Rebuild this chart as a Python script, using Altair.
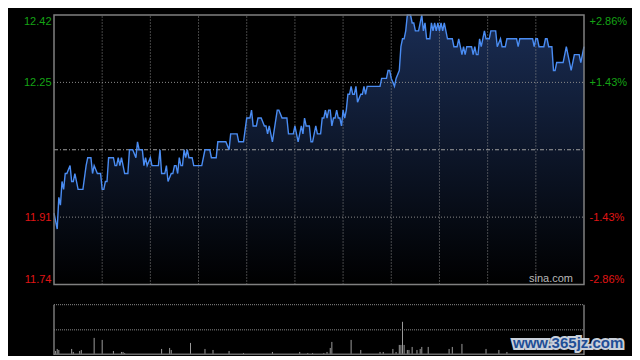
import altair as alt
import pandas as pd

# ---- price series (minute from open, price) ----
minutes = [0, 2, 3, 4, 5, 6, 7, 8, 10, 11, 12, 13, 14, 15, 18, 20, 21, 23, 24, 25, 27, 29, 30, 31, 32, 33, 34, 37, 38, 39,
           40, 41, 42, 44, 46, 47, 49, 51, 52, 53, 55, 56, 57, 58, 60, 61, 65, 66, 67, 69, 70, 71, 73, 74, 75, 76, 77, 78, 79, 80,
           81, 82, 83, 84, 86, 87, 92, 94, 97, 98, 101, 102, 107, 109, 110, 114, 115, 118, 120, 122, 123, 124, 126, 127, 129,
           131, 132, 133, 134, 136, 139, 140, 142, 145, 146, 149, 150, 152, 154, 155, 156, 157, 159, 160, 161, 163, 164, 166,
           167, 168, 169, 170, 171, 172, 173, 174, 175, 176, 177, 178, 179, 180, 181, 182, 183, 184, 185, 186, 187, 188, 189,
           191, 192, 193, 194, 195, 203, 204, 207, 208, 209, 210, 212, 213, 215, 216, 217, 218, 219, 220, 222, 223, 224, 225,
           227, 228, 229, 230, 231, 232, 234, 235, 236, 237, 238, 239, 240, 241, 242, 243, 244, 245, 248, 249, 251, 252, 253,
           254, 255, 256, 257, 260, 261, 262, 263, 264, 265, 266, 267, 268, 269, 271, 272, 275, 276, 278, 279, 281, 282, 288,
           289, 290, 298, 299, 300, 301, 302, 305, 306, 307, 308, 310, 311, 312, 313, 317, 319, 320, 322, 323, 324, 327, 328,
           329, 330]
prices = [11.92, 11.88, 11.96, 11.94, 12.00, 11.98, 12.02, 12.02, 12.04, 12.00, 12.00, 12.02, 12.00, 11.98, 11.98, 12.04,
          12.06, 12.06, 12.02, 12.04, 12.02, 12.02, 11.98, 11.98, 12.00, 12.00, 12.06, 12.06, 12.04, 12.04,
          12.06, 12.04, 12.06, 12.02, 12.02, 12.08, 12.08, 12.06, 12.10, 12.08, 12.08, 12.04, 12.06, 12.04, 12.06, 12.04,
          12.04, 12.08, 12.02, 12.02, 12.04, 12.00, 12.02, 12.02, 12.04, 12.04, 12.02, 12.06, 12.04, 12.04,
          12.08, 12.06, 12.08, 12.06, 12.06, 12.04, 12.04, 12.08, 12.08, 12.06, 12.06, 12.10, 12.10, 12.08, 12.12, 12.12,
          12.10, 12.10, 12.16, 12.16, 12.18, 12.14, 12.14, 12.16, 12.16,
          12.14, 12.14, 12.12, 12.14, 12.10, 12.18, 12.18, 12.16, 12.16, 12.12, 12.12, 12.14, 12.10, 12.14, 12.12, 12.16,
          12.14, 12.14, 12.10, 12.10, 12.14, 12.12, 12.12,
          12.16, 12.16, 12.18, 12.16, 12.18, 12.18, 12.14, 12.16, 12.16, 12.18, 12.16, 12.16, 12.14, 12.18, 12.16, 12.18,
          12.22, 12.22, 12.24, 12.22, 12.22, 12.24, 12.20,
          12.22, 12.22, 12.24, 12.22, 12.24, 12.24, 12.26, 12.26, 12.28, 12.28, 12.26, 12.24, 12.26, 12.28, 12.34, 12.36,
          12.36, 12.38, 12.42, 12.42, 12.40, 12.40, 12.38,
          12.38, 12.40, 12.42, 12.38, 12.40, 12.36, 12.36, 12.40, 12.38, 12.40, 12.38, 12.40, 12.38, 12.40, 12.38, 12.40,
          12.38, 12.36, 12.36, 12.34, 12.34, 12.36, 12.34,
          12.32, 12.34, 12.32, 12.34, 12.34, 12.32, 12.34, 12.32, 12.32, 12.36, 12.34, 12.36, 12.38, 12.36, 12.36, 12.38,
          12.38, 12.34, 12.36, 12.34, 12.34, 12.36, 12.36,
          12.34, 12.36, 12.36, 12.34, 12.36, 12.36, 12.34, 12.34, 12.36, 12.36, 12.34, 12.34, 12.28, 12.28, 12.30, 12.30,
          12.34, 12.32, 12.28, 12.30, 12.32, 12.32, 12.30,
          12.32, 12.34]

# ---- volume (notable bars) ----
vol_minutes = [1, 2, 3, 11, 12, 16, 17, 25, 30, 37, 42, 43, 44, 67, 72, 73, 85, 94, 99, 109, 118, 136, 153, 158, 161,
               168, 170, 172, 173, 185, 191, 203, 205, 211, 213, 215, 216, 217, 218, 220, 221, 223, 226, 228, 229, 233,
               246, 248, 254, 269, 277, 282]
volumes = [4, 6, 5, 6, 3, 4, 5, 17, 15, 4, 3, 3, 2, 6, 7, 5, 12, 6, 5, 4, 2, 3, 3, 2, 2,
           2, 3, 7, 13, 15, 5, 3, 3, 6, 3, 10, 10, 33, 10, 5, 5, 8, 5, 6, 8, 8,
           6, 8, 11, 6, 5, 3]

grid_minutes = [30, 60, 90, 120, 150, 180, 210, 240, 270, 300]
session = [0, 330]
price_ticks = [12.42, 12.25, 11.91, 11.74]
pct_labels = ["+2.86%", "+1.43%", "-1.43%", "-2.86%"]
price_grid = [12.25, 11.91]
prev_close = 12.08
vol_grid = [50, 25]
vol_max = 50

PMIN, PMAX = 11.74, 12.42
GREEN = "#15a315"
RED = "#e01515"
GRID = "#8a8a8a"
FONT = "Liberation Sans"

price_df = pd.DataFrame({"minute": minutes, "price": prices})
vol_df = pd.DataFrame({"minute": vol_minutes, "volume": volumes})
gx_df = pd.DataFrame({"minute": grid_minutes})
gy_df = pd.DataFrame({"price": price_grid})
tick_df = pd.DataFrame({"price": price_ticks})
vg_df = pd.DataFrame({"v": vol_grid})
side_df = pd.DataFrame({"minute": session})
one = pd.DataFrame({"k": [0]})

xs = alt.Scale(domain=session, nice=False, zero=False)
ps = alt.Scale(domain=[PMIN, PMAX], range=[269.5, 0], nice=False, zero=False)
vs = alt.Scale(domain=[0, vol_max], range=[340, 289.7], nice=False)

label_color = {"condition": {"test": f"datum.value > {prev_close}", "value": GREEN}, "value": RED}

left_axis = alt.Axis(orient="left", values=price_ticks, format=".2f", domain=False, ticks=False, grid=False,
                     labelFlush=True, labelPadding=3, labelFont=FONT, labelFontSize=11,
                     labelColor=label_color, labelOverlap=False, title=None)
expr = " : ".join(f"datum.value == {v} ? '{l}'" for v, l in zip(price_ticks, pct_labels)) + " : ''"
right_axis = alt.Axis(orient="right", values=price_ticks, domain=False, ticks=False, grid=False,
                      labelFlush=True, labelPadding=5, labelFont=FONT, labelFontSize=11,
                      labelColor=label_color, labelOverlap=False, labelExpr=expr, title=None)

grad = alt.Gradient(gradient="linear",
                    stops=[alt.GradientStop(color="#1a2d54", offset=0),
                           alt.GradientStop(color="#000000", offset=1)],
                    x1=1, x2=1, y1=0, y2=1)

area = alt.Chart(price_df).mark_area(color=grad).encode(
    x=alt.X("minute:Q", scale=xs, axis=None),
    y=alt.Y("price:Q", scale=ps, axis=left_axis),
    y2=alt.datum(PMIN),
)
vgrid = alt.Chart(gx_df).mark_rule(color=GRID, strokeDash=[1, 2], strokeWidth=1).encode(
    x=alt.X("minute:Q"), y=alt.datum(PMIN), y2=alt.datum(PMAX))
hgrid = alt.Chart(gy_df).mark_rule(color=GRID, strokeDash=[1, 2], strokeWidth=1).encode(
    y=alt.Y("price:Q"), x=alt.datum(session[0]), x2=alt.datum(session[1]))
pc = alt.Chart(one).mark_rule(color="#a0a0a0", strokeDash=[4, 2, 1, 2], strokeWidth=1).encode(
    y=alt.datum(prev_close), x=alt.datum(session[0]), x2=alt.datum(session[1]))
line = alt.Chart(price_df).mark_line(color="#4a8cf2", strokeWidth=1.4).encode(
    x=alt.X("minute:Q"), y=alt.Y("price:Q"))
border = alt.Chart(one).mark_rect(fillOpacity=0, stroke="#808080", strokeWidth=1.5).encode(
    x=alt.datum(session[0]), x2=alt.datum(session[1]), y=alt.datum(PMIN), y2=alt.datum(PMAX))
sina = alt.Chart(one).mark_text(text="sina.com", align="right", baseline="middle", font=FONT,
                                fontSize=11, color="#b8b8b8").encode(x=alt.value(519), y=alt.value(264))

price_panel = alt.layer(area, vgrid, hgrid, pc, line, border, sina)

right = alt.Chart(tick_df).mark_tick(opacity=0).encode(
    y=alt.Y("price:Q", scale=alt.Scale(domain=[PMIN, PMAX], range=[269.5, 0], nice=False, zero=False),
            axis=right_axis))

vbars = alt.Chart(vol_df).mark_rule(color="#9a9a9a", strokeWidth=1).encode(
    x=alt.X("minute:Q"), y=alt.Y("volume:Q", scale=vs, axis=None), y2=alt.datum(0))
vbase = alt.Chart(one).mark_rule(color="#6a6a6a", strokeWidth=1.5).encode(
    y=alt.datum(0.8), x=alt.datum(session[0]), x2=alt.datum(session[1]))
vgridl = alt.Chart(vg_df).mark_rule(color=GRID, strokeDash=[1, 1], strokeWidth=1).encode(
    y=alt.Y("v:Q"), x=alt.datum(session[0]), x2=alt.datum(session[1]))
vsides = alt.Chart(side_df).mark_rule(color="#8a8a8a", strokeWidth=1.3).encode(
    x=alt.X("minute:Q"), y=alt.datum(0), y2=alt.datum(vol_max))
vol_panel = alt.layer(vbars, vbase, vgridl, vsides)

wm_glow = alt.Chart(one).mark_text(text="www.365jz.com", align="left", baseline="middle", font=FONT,
                                   fontSize=15, fontWeight="bold", color="#d8dde6", stroke="#c9d0da",
                                   strokeWidth=4).encode(x=alt.value(459), y=alt.value(328))
wm = alt.Chart(one).mark_text(text="www.365jz.com", align="left", baseline="middle", font=FONT,
                              fontSize=15, fontWeight="bold", color="#1f4e96").encode(
    x=alt.value(459), y=alt.value(328))

chart = alt.layer(price_panel, right, vol_panel, wm_glow, wm).resolve_scale(y="independent").properties(
    width=530, height=341, autosize="none",
    padding={"left": 46, "top": 7, "right": 48, "bottom": 0},
).configure(background="#000000").configure_view(strokeWidth=0)

chart.save("out.html", embed_options={"renderer": "svg", "actions": False})
